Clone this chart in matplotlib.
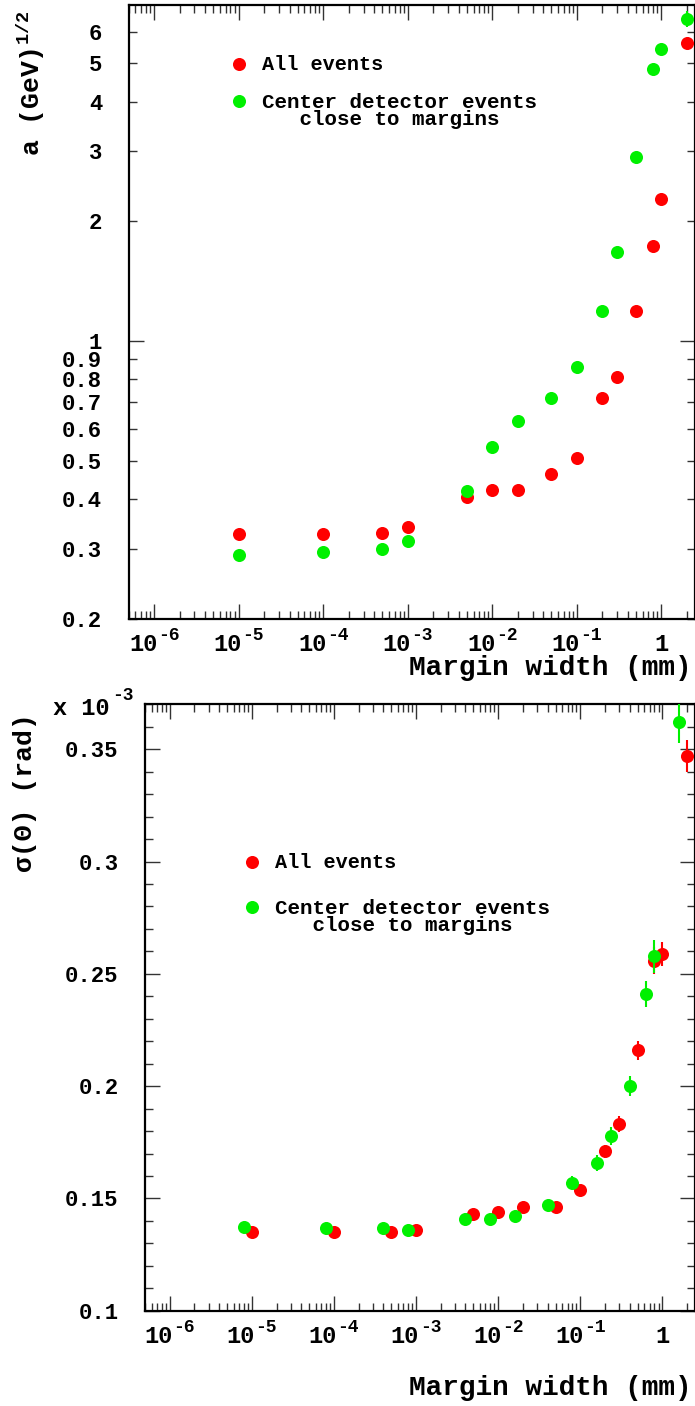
import numpy as np
import matplotlib
matplotlib.use("Agg")
import matplotlib.pyplot as plt
import matplotlib.transforms as mtransforms
from matplotlib.ticker import FixedLocator, FixedFormatter, LogLocator, NullFormatter, MultipleLocator

plt.rcParams.update({
    "font.family": ["Liberation Mono", "DejaVu Sans"],
    "font.weight": "bold",
    "mathtext.fontset": "custom",
    "mathtext.rm": "Liberation Mono:bold",
    "mathtext.it": "Liberation Mono:bold",
    "mathtext.bf": "Liberation Mono:bold",
    "axes.linewidth": 1.6,
})

RED = "#ff0000"
GREEN = "#00f000"

# upper panel: a (GeV)^1/2 vs margin width
width_top = [1e-5, 1e-4, 5e-4, 1e-3, 5e-3, 1e-2, 2e-2, 5e-2, 0.1, 0.2, 0.3, 0.5, 0.8, 1.0, 2.0]
a_all = [0.326, 0.326, 0.329, 0.341, 0.405, 0.421, 0.421, 0.463, 0.506, 0.717, 0.812, 1.19, 1.73, 2.27, 5.63]
a_center = [0.290, 0.294, 0.300, 0.314, 0.420, 0.542, 0.628, 0.717, 0.858, 1.19, 1.67, 2.91, 4.84, 5.44, 6.47]
a_center_err = [0.003, 0.003, 0.003, 0.003, 0.004, 0.005, 0.006, 0.007, 0.008, 0.01, 0.02, 0.04, 0.08, 0.1, 0.3]

# lower panel: sigma(theta) vs margin width (green shifted by 0.8 for visibility)
width_all = [1e-5, 1e-4, 5e-4, 1e-3, 5e-3, 1e-2, 2e-2, 5e-2, 0.1, 0.2, 0.3, 0.5, 0.8, 1.0, 2.0]
width_center = [8e-6, 8e-5, 4e-4, 8e-4, 4e-3, 8e-3, 1.6e-2, 4e-2, 0.08, 0.16, 0.24, 0.4, 0.64, 0.8, 1.6]
sig_all = [0.1352, 0.1350, 0.1352, 0.1360, 0.1429, 0.1441, 0.1460, 0.1460, 0.1539, 0.1710, 0.1830, 0.2160, 0.2558, 0.2590, 0.3470]
sig_all_err = [0.001, 0.001, 0.001, 0.001, 0.0015, 0.0015, 0.0015, 0.002, 0.002, 0.003, 0.0036, 0.0043, 0.006, 0.0053, 0.007]
sig_center = [0.1371, 0.1370, 0.1370, 0.1360, 0.1408, 0.1408, 0.1420, 0.1469, 0.1570, 0.1659, 0.1778, 0.2000, 0.2410, 0.2579, 0.3620]
sig_center_err = [0.001, 0.001, 0.001, 0.001, 0.0015, 0.0015, 0.002, 0.0025, 0.003, 0.0035, 0.004, 0.0046, 0.0058, 0.0073, 0.009]

decades = [1e-6, 1e-5, 1e-4, 1e-3, 1e-2, 1e-1, 1.0]

W, H = 695, 1406
fig = plt.figure(figsize=(W / 100, H / 100), dpi=100)


def px(x, y):
    return x / W, 1 - y / H


def style_axes(ax):
    ax.set_xscale("log")
    ax.set_xlim(5e-7, 2.5)
    ax.xaxis.set_major_locator(FixedLocator(decades))
    ax.xaxis.set_major_formatter(NullFormatter())
    ax.xaxis.set_minor_locator(LogLocator(base=10, subs=np.arange(2, 10), numticks=20))
    ax.xaxis.set_minor_formatter(NullFormatter())
    ax.tick_params(axis="both", which="both", direction="in", top=True, right=True,
                   labelsize=16, width=1.0, color="#333333")
    ax.tick_params(axis="both", which="major", length=10.5)
    ax.tick_params(axis="both", which="minor", length=5.5)
    ax.tick_params(axis="y", pad=19)

    # ROOT-style "10" with raised exponent under each decade
    base = mtransforms.blended_transform_factory(ax.transData, ax.transAxes)
    for v in decades:
        e = int(round(np.log10(v)))
        if e == 0:
            tr = mtransforms.offset_copy(base, fig=fig, x=0, y=-23.5, units="points")
            ax.text(v, 0, "1", transform=tr, ha="center", va="baseline", fontsize=17)
            continue
        tr10 = mtransforms.offset_copy(base, fig=fig, x=2.2, y=-23.5, units="points")
        ax.text(v, 0, "10", transform=tr10, ha="right", va="baseline", fontsize=17)
        tre = mtransforms.offset_copy(base, fig=fig, x=2.6, y=-15, units="points")
        ax.text(v, 0, f"{e}", transform=tre, ha="left", va="baseline", fontsize=13)


def legend_block(ax, x_dot, y1, y2, x_text):
    ax.plot(*px(x_dot, y1 - 6), "o", color=RED, ms=9.4, mec="none", transform=fig.transFigure, clip_on=False)
    ax.plot(*px(x_dot, y2 - 6), "o", color=GREEN, ms=9.4, mec="none", transform=fig.transFigure, clip_on=False)
    fig.text(*px(x_text, y1), "All events", fontsize=14.5, ha="left", va="baseline")
    # baseline anchor of a two-line text sits on its last line
    fig.text(*px(x_text, y2 + 18), "Center detector events\n   close to margins", fontsize=15,
             ha="left", va="baseline", linespacing=0.88)


# ---- upper panel ----
ax1 = fig.add_axes([128.7 / W, 1 - 618.7 / H, (W - 128.7) / W, (618.7 - 5) / H])
style_axes(ax1)
ax1.set_yscale("log")
ax1.set_ylim(0.2, 7.0)
ax1.yaxis.set_major_locator(FixedLocator([1.0]))
ax1.yaxis.set_major_formatter(FixedFormatter(["1"]))
minor_y = [0.2, 0.3, 0.4, 0.5, 0.6, 0.7, 0.8, 0.9, 2, 3, 4, 5, 6]
ax1.yaxis.set_minor_locator(FixedLocator(minor_y))
ax1.yaxis.set_minor_formatter(FixedFormatter([f"{v:g}" for v in minor_y]))
ax1.tick_params(axis="y", which="minor", labelsize=16, pad=19)

ax1.plot(width_top, a_all, "o", color=RED, ms=9.4, mec="none", zorder=3)
ax1.errorbar(width_top, a_center, yerr=a_center_err, fmt="o", color=GREEN, ms=9.4,
             mec="none", elinewidth=1.5, capsize=0, zorder=4)

legend_block(ax1, 239, 70, 107, 262)
fig.text(*px(31, 83), "a (GeV)$^{1/2}$", fontsize=19, rotation=90, ha="center", va="center")
fig.text(*px(691.7, 668), "Margin width (mm)", fontsize=20, ha="right", va="center")

# ---- lower panel ----
ax2 = fig.add_axes([145 / W, 1 - 1310.7 / H, (W - 145) / W, (1310.7 - 703.7) / H])
style_axes(ax2)
ax2.set_ylim(0.1, 0.3703)
ax2.yaxis.set_major_locator(FixedLocator([0.1, 0.15, 0.2, 0.25, 0.3, 0.35]))
ax2.yaxis.set_major_formatter(FixedFormatter(["0.1", "0.15", "0.2", "0.25", "0.3", "0.35"]))
ax2.yaxis.set_minor_locator(MultipleLocator(0.01))

ax2.errorbar(width_all, sig_all, yerr=sig_all_err, fmt="o", color=RED, ms=9.4,
             mec="none", elinewidth=1.5, capsize=0, zorder=3)
ax2.errorbar(width_center, sig_center, yerr=sig_center_err, fmt="o", color=GREEN, ms=9.4,
             mec="none", elinewidth=1.5, capsize=0, zorder=4)

legend_block(ax2, 252.3, 868.3, 912.7, 275)
fig.text(*px(25, 793), "σ(Θ) (rad)", fontsize=19, rotation=90, ha="center", va="center")
fig.text(*px(53, 715), "x 10", fontsize=17, ha="left", va="baseline")
fig.text(*px(112, 700), "-3", fontsize=13, ha="left", va="baseline")
fig.text(*px(691.7, 1388), "Margin width (mm)", fontsize=20, ha="right", va="center")

fig.savefig("out.png", dpi=100)
